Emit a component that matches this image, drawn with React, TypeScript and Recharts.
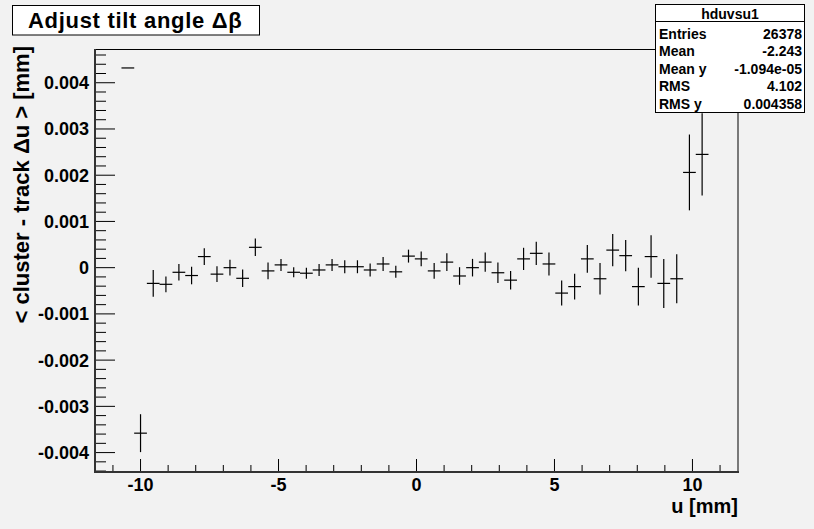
import React from 'react';
import { ScatterChart, Scatter, XAxis, YAxis, ErrorBar } from 'recharts';

// bin centres u [mm]
const binCenters = [
  -10.46, -10.0, -9.54, -9.08, -8.61, -8.15, -7.69, -7.23, -6.76, -6.3,
  -5.84, -5.38, -4.91, -4.45, -3.99, -3.53, -3.06, -2.6, -2.14, -1.68,
  -1.21, -0.75, -0.29, 0.17, 0.64, 1.1, 1.56, 2.03, 2.49, 2.95,
  3.41, 3.88, 4.34, 4.8, 5.26, 5.73, 6.19, 6.65, 7.11, 7.58,
  8.04, 8.5, 8.96, 9.43, 9.89, 10.35,
];
// < cluster - track du > [mm]
const meanDelta = [
  0.00432, -0.00358, -0.00034, -0.00036, -0.0001, -0.00017, 0.00024, -0.00014, 0.0, -0.00023,
  0.00044, -0.00007, 0.00006, -0.0001, -0.00012, -0.00005, 0.00006, 0.00002, 0.00002, -0.00005,
  0.00008, -0.00009, 0.00025, 0.00019, -0.00007, 0.00012, -0.00018, 0.0, 0.00012, -0.00011,
  -0.00027, 0.00019, 0.00031, 0.00008, -0.00055, -0.00041, 0.00019, -0.00024, 0.00038, 0.00026,
  -0.00041, 0.00024, -0.00034, -0.00024, 0.00206, 0.00245,
];
const errDelta = [
  0, 0.00041, 0.00029, 0.00017, 0.00018, 0.00019, 0.00018, 0.00017, 0.00017, 0.00019,
  0.00019, 0.00018, 0.00013, 0.00011, 0.00012, 0.00013, 0.00013, 0.00014, 0.00014, 0.00014,
  0.00015, 0.00013, 0.00014, 0.00016, 0.00017, 0.00019, 0.00019, 0.00019, 0.00021, 0.00022,
  0.0002, 0.00024, 0.00025, 0.00025, 0.00027, 0.00028, 0.0003, 0.00034, 0.00035, 0.00034,
  0.00041, 0.00046, 0.00053, 0.00053, 0.00082, 0.00089,
];
const halfBinWidth = 0.231;

const xTicks = [-11, -10, -9, -8, -7, -6, -5, -4, -3, -2, -1, 0, 1, 2, 3, 4, 5, 6, 7, 8, 9, 10, 11];
const yTicks = [
  -0.0044, -0.0042, -0.004, -0.0038, -0.0036, -0.0034, -0.0032, -0.003, -0.0028, -0.0026,
  -0.0024, -0.0022, -0.002, -0.0018, -0.0016, -0.0014, -0.0012, -0.001, -0.0008, -0.0006,
  -0.0004, -0.0002, 0, 0.0002, 0.0004, 0.0006, 0.0008, 0.001, 0.0012, 0.0014,
  0.0016, 0.0018, 0.002, 0.0022, 0.0024, 0.0026, 0.0028, 0.003, 0.0032, 0.0034,
  0.0036, 0.0038, 0.004, 0.0042, 0.0044, 0.0046,
];

const statsNames = ['Entries', 'Mean', 'Mean y', 'RMS', 'RMS y'];
const statsValues = ['26378', '-2.243', '-1.094e-05', '4.102', '0.004358'];

const FONT = '"Liberation Sans", Arial, Helvetica, sans-serif';

const data = binCenters.map((u, i) => ({ u, d: meanDelta[i], ey: errDelta[i], ex: halfBinWidth }));

const XTick = (props: any) => {
  const { x, y, payload } = props;
  const v = payload.value;
  const major = Math.round(v) % 5 === 0;
  const len = major ? 13 : 7;
  return (
    <g>
      <line x1={x} y1={y} x2={x} y2={y - len} stroke="#000" strokeWidth={1} />
      {major && (
        <text x={x} y={y + 18.5} textAnchor="middle" fontSize={18} fontWeight="bold" fontFamily={FONT} fill="#000">
          {String(Math.round(v))}
        </text>
      )}
    </g>
  );
};

const YTick = (props: any) => {
  const { x, y, payload } = props;
  const v = payload.value;
  const major = Math.abs(Math.round(v * 10000)) % 10 === 0;
  const len = major ? 20 : 11;
  const label = Math.abs(v) < 1e-9 ? '0' : v.toFixed(3);
  return (
    <g>
      <line x1={x} y1={y} x2={x + len} y2={y} stroke="#000" strokeWidth={1} />
      {major && (
        <text x={x - 6} y={y + 6.5} textAnchor="end" fontSize={18} fontWeight="bold" fontFamily={FONT} fill="#000">
          {label}
        </text>
      )}
    </g>
  );
};

export default function App() {
  return (
    <div style={{ position: 'absolute', left: 0, top: 0, width: 814, height: 529, background: '#f2f2f2', overflow: 'hidden' }}>
      <ScatterChart width={814} height={529} margin={{ top: 49, right: 76, bottom: 17, left: 35 }}>
        <XAxis
          dataKey="u"
          type="number"
          domain={[-11.65, 11.65]}
          allowDataOverflow
          ticks={xTicks}
          interval={0}
          tickSize={0}
          tickMargin={0}
          tickLine={false}
          axisLine={false}
          height={40}
          tick={XTick}
        />
        <YAxis
          dataKey="d"
          type="number"
          domain={[-0.00442, 0.00473]}
          allowDataOverflow
          ticks={yTicks}
          interval={0}
          tickSize={0}
          tickMargin={0}
          tickLine={false}
          axisLine={false}
          width={60}
          tick={YTick}
        />
        <Scatter data={data} isAnimationActive={false} shape={() => <g />}>
          <ErrorBar dataKey="ey" direction="y" width={0} stroke="#000" strokeWidth={1.2} isAnimationActive={false} />
          <ErrorBar dataKey="ex" direction="x" width={0} stroke="#000" strokeWidth={1.2} isAnimationActive={false} />
        </Scatter>
      </ScatterChart>
      <svg width={814} height={529} style={{ position: 'absolute', left: 0, top: 0, pointerEvents: 'none' }}>
        <rect x={95.5} y={49.5} width={642.5} height={422.5} fill="none" stroke="#000" strokeWidth={1} />
        <line x1={95} y1={49} x2={95} y2={473} stroke="#333" strokeWidth={2} />
        <line x1={94} y1={472} x2={739} y2={472} stroke="#333" strokeWidth={2} />
        <rect x={12.5} y={5.5} width={247} height={29.5} fill="#fff" stroke="#000" strokeWidth={1} />
        <text x={28} y={28} fontSize={22} letterSpacing={0.7} fontWeight="bold" fontFamily={FONT} fill="#000">Adjust tilt angle Δβ</text>
        <rect x={655.5} y={4.5} width={149} height={108} fill="#fff" stroke="#000" strokeWidth={1} />
        <line x1={655} y1={21.5} x2={805} y2={21.5} stroke="#000" strokeWidth={1} />
        <text x={730} y={18.5} textAnchor="middle" fontSize={14} fontWeight="bold" fontFamily={FONT} fill="#000">hduvsu1</text>
        {statsNames.map((n, i) => (
          <g key={n}>
            <text x={659} y={38.5 + i * 17.6} fontSize={14} fontWeight="bold" fontFamily={FONT} fill="#000">{n}</text>
            <text x={802} y={38.5 + i * 17.6} textAnchor="end" fontSize={14} fontWeight="bold" fontFamily={FONT} fill="#000">{statsValues[i]}</text>
          </g>
        ))}
        <text x={738} y={513} textAnchor="end" fontSize={20} fontWeight="bold" fontFamily={FONT} fill="#000">u [mm]</text>
        <text x={29} y={46} textAnchor="end" transform="rotate(-90, 29, 46)" fontSize={22} fontWeight="bold" fontFamily={FONT} fill="#000">
          {'< cluster - track Δu > [mm]'}
        </text>
      </svg>
    </div>
  );
}
